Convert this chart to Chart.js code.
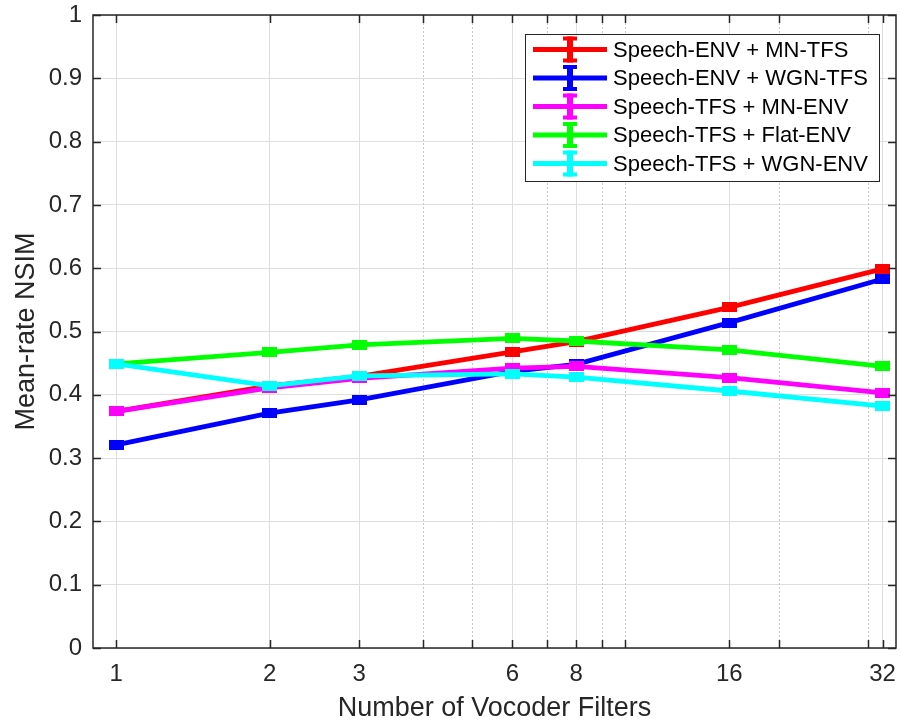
<!DOCTYPE html>
<html>
<head>
<meta charset="utf-8">
<script src="https://cdn.jsdelivr.net/npm/chart.js@4.4.1/dist/chart.umd.min.js"></script>
<style>
  body { margin: 0; background: #fff; }
  canvas { display: block; }
</style>
</head>
<body>
<canvas id="myChart" width="901" height="725"></canvas>
<script>
const filters = [1, 2, 3, 6, 8, 16, 32];
const envMnTfs = [0.374, 0.414, 0.429, 0.468, 0.484, 0.538, 0.599];
const envWgnTfs = [0.321, 0.371, 0.392, 0.437, 0.448, 0.514, 0.583];
const tfsMnEnv = [0.374, 0.411, 0.426, 0.442, 0.445, 0.427, 0.403];
const tfsFlatEnv = [0.449, 0.467, 0.479, 0.489, 0.485, 0.471, 0.445];
const tfsWgnEnv = [0.449, 0.414, 0.430, 0.433, 0.428, 0.406, 0.382];

const seriesNames = [
  "Speech-ENV + MN-TFS",
  "Speech-ENV + WGN-TFS",
  "Speech-TFS + MN-ENV",
  "Speech-TFS + Flat-ENV",
  "Speech-TFS + WGN-ENV",
];
const seriesValues = [envMnTfs, envWgnTfs, tfsMnEnv, tfsFlatEnv, tfsWgnEnv];
const seriesColors = ["#ff0000", "#0000ff", "#ff00ff", "#00ff00", "#00ffff"];

const xMin = 0.9;
const xMax = 34;
const xMajorTicks = [1, 2, 3, 6, 8, 16, 32];
const xMinorTicks = [4, 5, 7, 9, 10, 20, 30];
const yTicks = [0, 0.1, 0.2, 0.3, 0.4, 0.5, 0.6, 0.7, 0.8, 0.9, 1];

const FONT = "'Liberation Sans', Arial, Helvetica, sans-serif";
const AXIS = "#262626";

// little filled block standing in for the (tiny) error bar caps
function capMarker(color) {
  const c = document.createElement("canvas");
  c.width = 15;
  c.height = 10;
  const g = c.getContext("2d");
  g.fillStyle = color;
  g.fillRect(0, 0, 15, 10);
  return c;
}

const datasets = seriesNames.map((name, i) => ({
  label: name,
  data: filters.map((f, j) => ({ x: f, y: seriesValues[i][j] })),
  borderColor: seriesColors[i],
  backgroundColor: seriesColors[i],
  borderWidth: 4.8,
  pointStyle: capMarker(seriesColors[i]),
  pointRadius: 6,
  tension: 0,
  order: seriesNames.length - i,
}));

const framePlugin = {
  id: "frame",
  beforeDatasetsDraw(chart) {
    const { ctx, chartArea: a, scales } = chart;
    ctx.save();
    ctx.strokeStyle = "#c8c8c8";
    ctx.lineWidth = 1;
    ctx.setLineDash([2, 2]);
    xMinorTicks.forEach((v) => {
      const px = Math.round(scales.x.getPixelForValue(v)) + 0.5;
      ctx.beginPath();
      ctx.moveTo(px, a.top);
      ctx.lineTo(px, a.bottom);
      ctx.stroke();
    });
    ctx.restore();
  },
  afterDatasetsDraw(chart) {
    const { ctx, chartArea: a, scales } = chart;
    const len = 8;
    ctx.save();
    ctx.strokeStyle = AXIS;
    ctx.lineWidth = 1.5;
    ctx.beginPath();
    xMajorTicks.concat(xMinorTicks).forEach((v) => {
      const px = Math.round(scales.x.getPixelForValue(v)) + 0.5;
      ctx.moveTo(px, a.bottom);
      ctx.lineTo(px, a.bottom - len);
      ctx.moveTo(px, a.top);
      ctx.lineTo(px, a.top + len);
    });
    yTicks.forEach((v) => {
      const py = Math.round(scales.y.getPixelForValue(v)) + 0.5;
      ctx.moveTo(a.left, py);
      ctx.lineTo(a.left + len, py);
      ctx.moveTo(a.right, py);
      ctx.lineTo(a.right - len, py);
    });
    ctx.stroke();
    ctx.strokeRect(a.left, a.top, a.right - a.left, a.bottom - a.top);
    ctx.restore();
  },
  afterDraw(chart) {
    const { ctx } = chart;
    const box = { x: 525, y: 34, w: 354, h: 147 };
    ctx.save();
    ctx.fillStyle = "#fff";
    ctx.fillRect(box.x, box.y, box.w, box.h);
    ctx.strokeStyle = AXIS;
    ctx.lineWidth = 1;
    ctx.strokeRect(box.x + 0.5, box.y + 0.5, box.w, box.h);
    chart.data.datasets.forEach((ds, i) => {
      const cy = box.y + 15.5 + i * 28.5;
      ctx.strokeStyle = ds.borderColor;
      ctx.fillStyle = ds.borderColor;
      ctx.lineWidth = 4.8;
      ctx.beginPath();
      ctx.moveTo(533, cy);
      ctx.lineTo(607, cy);
      ctx.stroke();
      ctx.fillRect(567, cy - 13, 6, 26);
      ctx.fillRect(563, cy - 13, 14, 4);
      ctx.fillRect(563, cy + 9, 14, 4);
      ctx.fillStyle = "#000";
      ctx.font = "22px " + FONT;
      ctx.textBaseline = "middle";
      ctx.fillText(ds.label, 613, cy + 1);
    });
    ctx.restore();
  },
};

new Chart(document.getElementById("myChart"), {
  type: "line",
  data: { datasets },
  options: {
    responsive: false,
    animation: false,
    devicePixelRatio: 1,
    layout: { autoPadding: false, padding: { top: 15, right: 5, left: 0, bottom: 0 } },
    plugins: { legend: { display: false }, tooltip: { enabled: false } },
    scales: {
      x: {
        type: "logarithmic",
        min: xMin,
        max: xMax,
        afterBuildTicks: (scale) => {
          scale.ticks = xMajorTicks.map((v) => ({ value: v }));
        },
        afterFit: (scale) => {
          scale.height = 77;
          scale.paddingLeft = 0;
          scale.paddingRight = 0;
        },
        ticks: {
          autoSkip: false,
          maxRotation: 0,
          padding: 0,
          color: AXIS,
          font: { family: FONT, size: 24, lineHeight: 2.2 },
          callback: (v) => String(v),
        },
        grid: { color: "#dedede", lineWidth: 1, drawTicks: false },
        border: { display: false },
        title: {
          display: true,
          text: "Number of Vocoder Filters",
          color: AXIS,
          font: { family: FONT, size: 27, lineHeight: 1 },
          padding: { top: 0, bottom: 3 },
        },
      },
      y: {
        min: 0,
        max: 1,
        afterBuildTicks: (scale) => {
          scale.ticks = yTicks.map((v) => ({ value: v }));
        },
        afterFit: (scale) => {
          scale.width = 93;
          scale.paddingTop = 0;
          scale.paddingBottom = 0;
        },
        ticks: {
          padding: 11,
          color: AXIS,
          font: { family: FONT, size: 24 },
          callback: (v) => String(+v.toFixed(1)),
        },
        grid: { color: "#dedede", lineWidth: 1, drawTicks: false },
        border: { display: false },
        title: {
          display: true,
          text: "Mean-rate NSIM",
          color: AXIS,
          font: { family: FONT, size: 27, lineHeight: 1 },
          padding: { top: 13, bottom: 0 },
        },
      },
    },
  },
  plugins: [framePlugin],
});
</script>
</body>
</html>
